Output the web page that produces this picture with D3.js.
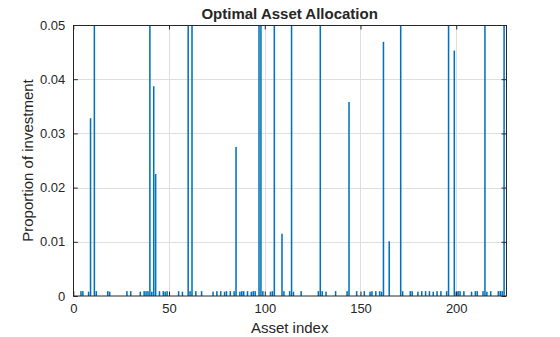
<!DOCTYPE html>
<html>
<head>
<meta charset="utf-8">
<script src="https://cdn.jsdelivr.net/npm/d3@7"></script>
<style>
  html, body { margin: 0; padding: 0; background: #fff; }
  svg { display: block; }
  text { font-family: "Liberation Sans", Arial, Helvetica, sans-serif; fill: #262626; }
</style>
</head>
<body>
<svg id="chart" width="560" height="337"></svg>
<script>
// Portfolio weights per asset (only assets with a nonzero allocation).
const nAssets = 225;
const largeIdx = [9, 11, 40, 42, 43, 60, 62, 85, 97, 98, 105, 109, 114, 129, 144, 162, 165, 171, 196, 199, 215, 225];
const largeW   = [0.0328, 0.071, 0.082, 0.0387, 0.0225, 0.064, 0.058, 0.0275, 0.091, 0.067, 0.076, 0.0115, 0.069, 0.085, 0.0358, 0.0469, 0.0101, 0.073, 0.088, 0.0453, 0.062, 0.079];
const smallIdx = [4, 5, 8, 12, 18, 19, 28, 30, 35, 37, 38, 39, 41, 45, 47, 48, 49, 55, 57, 61, 64, 67, 73, 75, 77, 79, 80, 82, 84, 87, 88, 89, 91, 93, 94, 95, 99, 103, 104, 110, 113, 115, 119, 128, 130, 132, 137, 143, 148, 152, 155, 156, 158, 160, 161, 172, 176, 177, 180, 182, 184, 186, 188, 190, 192, 195, 200, 201, 202, 204, 208, 210, 211, 214, 216, 218, 222, 223, 224];
const smallW   = [0.0009, 0.0009, 0.0008, 0.0009, 0.0009, 0.0008, 0.0009, 0.0009, 0.0008, 0.0009, 0.0009, 0.0009, 0.0008, 0.0009, 0.0009, 0.0008, 0.0009, 0.0009, 0.0008, 0.0009, 0.0009, 0.0009, 0.0008, 0.0009, 0.0009, 0.0008, 0.0009, 0.0009, 0.0009, 0.0008, 0.0009, 0.0009, 0.0009, 0.0008, 0.0009, 0.0009, 0.0009, 0.0008, 0.0009, 0.0009, 0.0009, 0.0008, 0.0009, 0.0009, 0.0009, 0.0008, 0.0009, 0.0009, 0.0009, 0.0009, 0.0008, 0.0009, 0.0009, 0.0009, 0.0008, 0.0009, 0.0009, 0.0009, 0.0008, 0.0009, 0.0009, 0.0009, 0.0008, 0.0009, 0.0009, 0.0009, 0.0008, 0.0009, 0.0009, 0.0009, 0.0008, 0.0009, 0.0009, 0.0009, 0.0008, 0.0009, 0.0009, 0.0009, 0.0009];
const xTicks = [0, 50, 100, 150, 200];
const yTicks = [0, 0.01, 0.02, 0.03, 0.04, 0.05];

const titleText = "Optimal Asset Allocation";
const xLabelText = "Asset index";
const yLabelText = "Proportion of investment";

const bars = largeIdx.map((d, i) => ({ idx: d, w: largeW[i] }))
  .concat(smallIdx.map((d, i) => ({ idx: d, w: smallW[i] })));

const W = 560, H = 337;
const m = { left: 73.3, right: 54, top: 25, bottom: 41 };
const iw = W - m.left - m.right, ih = H - m.top - m.bottom;

const svg = d3.select("#chart");
const x = d3.scaleLinear().domain([0, nAssets + 1]).range([m.left, m.left + iw]);
const y = d3.scaleLinear().domain([0, 0.05]).range([m.top + ih, m.top]);

const ink = "#262626";
const tickLen = 4.5;

// grid lines
const grid = svg.append("g");
grid.selectAll("line.gx").data(xTicks.filter(t => t > 0)).join("line")
  .attr("x1", d => Math.round(x(d)) + 0.5).attr("x2", d => Math.round(x(d)) + 0.5)
  .attr("y1", m.top).attr("y2", m.top + ih)
  .attr("stroke", "#dedede").attr("stroke-width", 1);
grid.selectAll("line.gy").data(yTicks.filter(t => t > 0 && t < 0.05)).join("line")
  .attr("y1", d => Math.round(y(d)) + 0.5).attr("y2", d => Math.round(y(d)) + 0.5)
  .attr("x1", m.left).attr("x2", m.left + iw)
  .attr("stroke", "#dedede").attr("stroke-width", 1);

// bars, clipped to the axes box
svg.append("clipPath").attr("id", "plotClip")
  .append("rect").attr("x", m.left).attr("y", m.top).attr("width", iw).attr("height", ih);

const bw = (x(1) - x(0)) * 0.8;
svg.append("g").attr("clip-path", "url(#plotClip)")
  .selectAll("rect").data(bars).join("rect")
  .attr("x", d => x(d.idx) - bw / 2)
  .attr("width", bw)
  .attr("y", d => y(d.w))
  .attr("height", d => y(0) - y(d.w))
  .attr("fill", "#0072BD");

// axes with inward ticks on all four sides
const axX = d3.axisBottom(x).tickValues(xTicks).tickSizeInner(-tickLen).tickSizeOuter(0).tickPadding(8).tickFormat(d3.format("d"));
const axY = d3.axisLeft(y).tickValues(yTicks).tickSizeInner(-tickLen).tickSizeOuter(0).tickPadding(8).tickFormat(d => d === 0 ? "0" : d3.format(".2f")(d));
const axXTop = d3.axisTop(x).tickValues(xTicks).tickSizeInner(-tickLen).tickSizeOuter(0).tickFormat("");
const axYRight = d3.axisRight(y).tickValues(yTicks).tickSizeInner(-tickLen).tickSizeOuter(0).tickFormat("");

function style(g) {
  g.select(".domain").remove();
  g.selectAll(".tick line").attr("stroke", ink);
  g.selectAll(".tick text").style("font-size", "13px").attr("fill", ink);
}
svg.append("g").attr("transform", `translate(0,${m.top + ih})`).call(axX).call(style);
svg.append("g").attr("transform", `translate(${m.left},0)`).call(axY).call(style);
svg.append("g").attr("transform", `translate(0,${m.top})`).call(axXTop).call(style);
svg.append("g").attr("transform", `translate(${m.left + iw},0)`).call(axYRight).call(style);

// axes box
svg.append("rect")
  .attr("x", Math.round(m.left) + 0.5).attr("y", m.top + 0.5)
  .attr("width", Math.round(iw)).attr("height", ih - 0.5)
  .attr("fill", "none").attr("stroke", ink).attr("stroke-width", 1);

// title and labels
svg.append("text").attr("x", m.left + iw / 2).attr("y", 19)
  .attr("text-anchor", "middle").style("font-size", "15px").style("font-weight", "bold")
  .text(titleText);
svg.append("text").attr("x", m.left + iw / 2).attr("y", 333)
  .attr("text-anchor", "middle").style("font-size", "15px")
  .text(xLabelText);
svg.append("text").attr("transform", `translate(33,${m.top + ih / 2}) rotate(-90)`)
  .attr("text-anchor", "middle").style("font-size", "15px")
  .text(yLabelText);
</script>
</body>
</html>
